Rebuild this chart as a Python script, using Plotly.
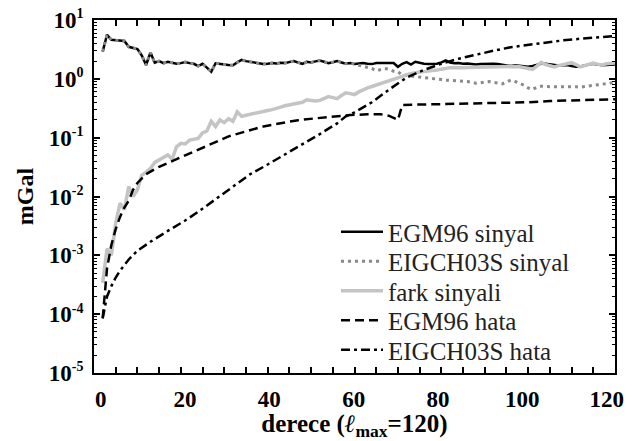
import plotly.graph_objects as go

# ---------------- data ----------------
degrees = list(range(2, 121))

egm96_signal = [
    2.9, 5.6, 4.6, 4.5, 4.5, 4.4, 3.5, 3.3, 3.2, 2.5,
    1.72, 2.8, 1.88, 2.0, 1.85, 1.95, 1.9, 1.8, 1.85, 1.93,
    1.85, 1.8, 1.65, 1.8, 1.55, 1.32, 1.84, 1.78, 1.75, 1.72,
    1.7, 1.9, 2.1, 2.0, 1.93, 1.88, 1.85, 1.78, 1.8, 1.85,
    1.82, 1.88, 1.85, 1.95, 2.0, 1.9, 1.8, 1.95, 1.9, 1.98,
    2.05, 1.95, 1.85, 1.92, 2.0, 1.9, 1.8, 1.85, 1.78, 1.82,
    1.85, 1.8, 1.78, 1.85, 1.85, 1.82, 1.85, 1.85, 1.6, 1.8,
    1.92, 1.75, 1.95, 1.85, 1.8, 1.78, 1.8, 1.8, 1.9, 2.05,
    1.9, 1.84, 1.85, 1.8, 1.82, 1.78, 1.75, 1.78, 1.8, 1.78,
    1.8, 1.78, 1.72, 1.7, 1.65, 1.7, 1.65, 1.62, 1.6, 1.65,
    1.75, 1.8, 1.8, 1.75, 1.7, 1.68, 1.7, 1.72, 1.65, 1.6,
    1.62, 1.7, 1.75, 1.8, 1.75, 1.7, 1.72, 1.75, 1.75,
]

eigch03s_signal = [
    2.9, 5.6, 4.6, 4.5, 4.5, 4.4, 3.5, 3.3, 3.2, 2.5,
    1.72, 2.8, 1.88, 2.0, 1.85, 1.95, 1.9, 1.8, 1.85, 1.93,
    1.85, 1.8, 1.65, 1.8, 1.55, 1.32, 1.84, 1.78, 1.75, 1.72,
    1.7, 1.9, 2.1, 2.0, 1.93, 1.88, 1.85, 1.78, 1.8, 1.85,
    1.82, 1.88, 1.85, 1.95, 2.0, 1.9, 1.8, 1.95, 1.9, 1.98,
    2.05, 1.95, 1.85, 1.92, 2.0, 1.9, 1.8, 1.85,
    1.78, 1.72, 1.65, 1.55, 1.5, 1.37, 1.42, 1.5, 1.45, 1.35,
    1.32, 1.16, 1.14, 1.12, 1.1, 1.09, 1.07, 1.04, 1.02, 1.0,
    0.97, 0.95, 0.94, 0.94, 0.93, 0.92, 0.9, 0.87, 0.84, 0.86,
    0.88, 0.9, 0.87, 0.84, 0.82, 0.88, 0.95, 0.9, 0.84, 0.78,
    0.7, 0.66, 0.72, 0.75, 0.74, 0.73, 0.73, 0.73, 0.73, 0.72,
    0.73, 0.73, 0.72, 0.74, 0.75, 0.77, 0.79, 0.81, 0.83, 0.86, 0.87,
]

difference_signal = [
    3.4e-4, 1.3e-3, 1.0e-3, 3.5e-3, 7.7e-3, 6.0e-3, 0.0148, 0.010, 0.013, 0.023,
    0.026, 0.030, 0.038, 0.042, 0.048, 0.051, 0.043, 0.070, 0.080, 0.078,
    0.091, 0.094, 0.097, 0.12, 0.13, 0.19, 0.155, 0.20, 0.18, 0.21,
    0.19, 0.275, 0.23, 0.24, 0.25, 0.26, 0.275, 0.28, 0.29, 0.30,
    0.32, 0.33, 0.35, 0.36, 0.37, 0.39, 0.40, 0.44, 0.43, 0.42,
    0.43, 0.47, 0.50, 0.48, 0.46, 0.52, 0.58, 0.56, 0.54, 0.60,
    0.66, 0.70, 0.74, 0.78, 0.84, 0.87, 0.92, 0.97, 1.02, 1.10,
    1.18, 1.24, 1.27, 1.30, 1.32, 1.35, 1.38, 1.41, 1.46, 1.51,
    1.55, 1.55, 1.53, 1.55, 1.56, 1.57, 1.57, 1.56, 1.58, 1.60,
    1.58, 1.62, 1.63, 1.65, 1.65, 1.62, 1.60, 1.55, 1.50, 1.45,
    1.65, 1.90, 1.75, 1.65, 1.60, 1.68, 1.75, 1.80, 1.88, 1.75,
    1.60, 1.68, 1.78, 1.85, 1.78, 1.72, 1.80, 1.85, 1.85,
]

egm96_error_degrees = [2, 3, 4, 5, 6, 7, 8, 9, 10, 12, 15, 19, 23, 27, 31, 35, 39, 43, 47,
                       51, 55, 59, 63, 66, 68, 70, 71, 75, 80, 85, 90, 95, 100, 105, 110, 115, 120]
egm96_error = [8.5e-5, 6.0e-4, 1.5e-3, 2.8e-3, 4.5e-3, 6.5e-3, 8.5e-3, 0.013, 0.017, 0.024, 0.032,
               0.043, 0.057, 0.077, 0.105, 0.128, 0.155, 0.176, 0.198, 0.213, 0.228, 0.242, 0.25,
               0.25, 0.235, 0.20, 0.36, 0.365, 0.37, 0.38, 0.39, 0.39, 0.40, 0.42, 0.43, 0.44, 0.45]

eigch03s_error_degrees = [2, 3, 4, 5, 6, 8, 10, 13, 17, 21, 24, 28, 32, 36, 40, 44, 48, 52, 56,
                          58, 60, 64, 68, 72, 76, 80, 84, 88, 92, 96, 100, 104, 108, 112, 116, 120]
eigch03s_error = [8.5e-5, 2.0e-4, 3.0e-4, 4.2e-4, 5.5e-4, 8.5e-4, 1.2e-3, 1.7e-3, 2.6e-3, 3.9e-3,
                  5.5e-3, 9.0e-3, 0.015, 0.024, 0.035, 0.052, 0.075, 0.115, 0.175, 0.23, 0.27,
                  0.40, 0.66, 1.05, 1.42, 1.8, 2.2, 2.6, 3.0, 3.45, 3.8, 4.2, 4.5, 4.8, 5.05, 5.35]

series_names = ["EGM96 sinyal", "EIGCH03S sinyal", "fark sinyali", "EGM96 hata", "EIGCH03S hata"]

x_tick_vals = [0, 20, 40, 60, 80, 100, 120]
x_tick_text = ["0", "20", "40", "60", "80", "100", "120"]
y_tick_vals = [1e-5, 1e-4, 1e-3, 1e-2, 1e-1, 1e0, 1e1]
y_exponents = ["-5", "-4", "-3", "-2", "-1", "0", "1"]

# ---------------- figure ----------------
FONT = "Liberation Serif"
W, H = 642, 441
ML, MR, MT, MB = 94, 27, 20, 68
PW, PH = W - ML - MR, H - MT - MB

y_tick_text = ["10<sup><span style='font-size:14px'>%s</span></sup>" % e for e in y_exponents]

styles = [
    dict(color="black", width=2.5),
    dict(color="#8a8a8a", width=3, dash="3px,4px"),
    dict(color="#c4c4c4", width=3.5),
    dict(color="black", width=2.5, dash="9px,5px"),
    dict(color="black", width=2.5, dash="9px,4px,3px,4px"),
]
xs = [degrees, degrees, degrees, egm96_error_degrees, eigch03s_error_degrees]
ys = [egm96_signal, eigch03s_signal, difference_signal, egm96_error, eigch03s_error]
legend_ids = ["legend", "legend2", "legend3", "legend4", "legend5"]

fig = go.Figure()
for xv, yv, name, st, lg in zip(xs, ys, series_names, styles, legend_ids):
    fig.add_trace(go.Scatter(x=xv, y=yv, mode="lines", name=name, line=st, legend=lg))
# carrier for the label axis
fig.add_trace(go.Scatter(x=[], y=[], xaxis="x2", showlegend=False, hoverinfo="skip"))

minor_y = [k * 10.0 ** e for e in range(-5, 1) for k in range(2, 10)]

legend_px_y = [232, 261.5, 291, 320.5, 350]
legend_left_px = 336
legends = {}
for lg, py in zip(legend_ids, legend_px_y):
    legends[lg] = dict(x=(legend_left_px - ML) / PW, y=1 - (py - MT) / PH,
                       xanchor="left", yanchor="middle", itemwidth=42,
                       bgcolor="rgba(0,0,0,0)", borderwidth=0,
                       font=dict(family=FONT, size=25, color="#222222"))

fig.update_layout(
    width=W, height=H,
    margin=dict(l=ML, r=MR, t=MT, b=MB),
    paper_bgcolor="white", plot_bgcolor="white",
    font=dict(family=FONT, color="black"),
    showlegend=True,
    xaxis=dict(range=[0, 120], showline=True, linewidth=2, linecolor="black", mirror="ticks",
               ticks="inside", ticklen=6, tickwidth=1.5, tickcolor="black",
               tickvals=x_tick_vals, showticklabels=False, automargin=False,
               minor=dict(dtick=5, tick0=0, ticks="inside", ticklen=6, tickwidth=1.5,
                          tickcolor="black", showgrid=False),
               showgrid=False, zeroline=False),
    xaxis2=dict(overlaying="x", anchor="y", side="bottom", range=[-1.59, 121.97],
                tickvals=x_tick_vals, ticktext=x_tick_text, ticks="", showline=False,
                showgrid=False, zeroline=False, ticklabelstandoff=10, automargin=False,
                tickfont=dict(family=FONT, size=23, weight="bold", color="black"),
                title=dict(text="derece (<i>ℓ</i><sub>max</sub>=120)", standoff=8,
                           font=dict(family=FONT, size=25, weight="bold", color="black"))),
    yaxis=dict(type="log", range=[-5, 1], showline=True, linewidth=2, linecolor="black",
               mirror="ticks", ticks="inside", ticklen=6, tickwidth=1.5, tickcolor="black",
               tickvals=y_tick_vals, ticktext=y_tick_text, automargin=False,
               ticklabelstandoff=4,
               tickfont=dict(family=FONT, size=23, weight="bold", color="black"),
               minor=dict(tickvals=minor_y, ticks="inside", ticklen=3, tickwidth=1,
                          tickcolor="black", showgrid=False),
               showgrid=False, zeroline=False,
               title=dict(text="mGal", standoff=8,
                          font=dict(family=FONT, size=24, weight="bold", color="black"))),
    **legends,
)

fig.write_html("out.html", config={"displayModeBar": False},
               post_script="document.body.style.margin='0px';")
